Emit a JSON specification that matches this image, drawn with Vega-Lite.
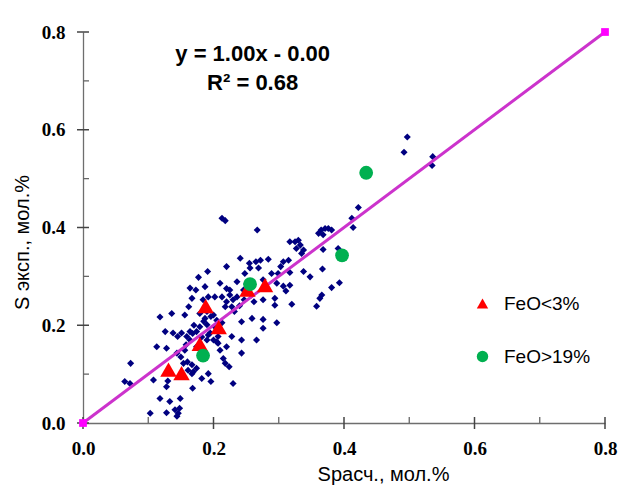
{
  "$schema": "https://vega.github.io/schema/vega-lite/v6.json",
  "width": 522,
  "height": 391,
  "autosize": {"type": "none"},
  "padding": {"left": 83, "top": 32, "right": 25, "bottom": 67},
  "background": "white",
  "config": {
    "view": {"stroke": null},
    "axis": {
      "grid": false,
      "ticks": false,
      "domainColor": "#6e6e6e",
      "domainWidth": 1.3,
      "labelFlush": false,
      "labelFont": "Liberation Serif",
      "labelFontWeight": "bold",
      "labelFontSize": 19,
      "labelColor": "#000000",
      "titleFont": "Liberation Sans",
      "titleFontWeight": "normal",
      "titleFontSize": 20,
      "titleColor": "#000000"
    },
    "legend": {
      "orient": "none",
      "legendX": 390,
      "legendY": 262,
      "title": null,
      "padding": 0,
      "labelFont": "Liberation Sans",
      "labelFontSize": 19,
      "labelColor": "#000000",
      "labelOffset": 12,
      "symbolSize": 130,
      "symbolStrokeWidth": 0,
      "rowPadding": 33
    }
  },
  "datasets": {
    "pts": [
      {"x": 0.213, "y": 0.419}, {"x": 0.218, "y": 0.414}, {"x": 0.267, "y": 0.395}, {"x": 0.241, "y": 0.337},
      {"x": 0.255, "y": 0.327}, {"x": 0.265, "y": 0.330}, {"x": 0.272, "y": 0.333}, {"x": 0.284, "y": 0.335},
      {"x": 0.220, "y": 0.320}, {"x": 0.256, "y": 0.317}, {"x": 0.269, "y": 0.317}, {"x": 0.191, "y": 0.310},
      {"x": 0.177, "y": 0.298}, {"x": 0.248, "y": 0.306}, {"x": 0.289, "y": 0.306}, {"x": 0.299, "y": 0.306},
      {"x": 0.236, "y": 0.289}, {"x": 0.251, "y": 0.286}, {"x": 0.210, "y": 0.286}, {"x": 0.220, "y": 0.275},
      {"x": 0.164, "y": 0.276}, {"x": 0.173, "y": 0.272}, {"x": 0.202, "y": 0.258}, {"x": 0.213, "y": 0.258},
      {"x": 0.192, "y": 0.258}, {"x": 0.236, "y": 0.258}, {"x": 0.230, "y": 0.252}, {"x": 0.220, "y": 0.248},
      {"x": 0.167, "y": 0.255}, {"x": 0.162, "y": 0.238}, {"x": 0.218, "y": 0.238}, {"x": 0.228, "y": 0.238},
      {"x": 0.294, "y": 0.241}, {"x": 0.294, "y": 0.255}, {"x": 0.276, "y": 0.252}, {"x": 0.190, "y": 0.228},
      {"x": 0.179, "y": 0.224}, {"x": 0.118, "y": 0.217}, {"x": 0.136, "y": 0.224}, {"x": 0.156, "y": 0.221},
      {"x": 0.200, "y": 0.221}, {"x": 0.187, "y": 0.214}, {"x": 0.243, "y": 0.207}, {"x": 0.259, "y": 0.214},
      {"x": 0.276, "y": 0.212}, {"x": 0.276, "y": 0.194}, {"x": 0.297, "y": 0.205}, {"x": 0.126, "y": 0.187},
      {"x": 0.138, "y": 0.184}, {"x": 0.151, "y": 0.184}, {"x": 0.164, "y": 0.187}, {"x": 0.174, "y": 0.187},
      {"x": 0.145, "y": 0.177}, {"x": 0.159, "y": 0.177}, {"x": 0.228, "y": 0.177}, {"x": 0.200, "y": 0.170},
      {"x": 0.207, "y": 0.163}, {"x": 0.243, "y": 0.170}, {"x": 0.266, "y": 0.170}, {"x": 0.113, "y": 0.156},
      {"x": 0.128, "y": 0.153}, {"x": 0.144, "y": 0.143}, {"x": 0.156, "y": 0.149}, {"x": 0.243, "y": 0.143},
      {"x": 0.215, "y": 0.132}, {"x": 0.218, "y": 0.122}, {"x": 0.073, "y": 0.122}, {"x": 0.154, "y": 0.122},
      {"x": 0.167, "y": 0.119}, {"x": 0.161, "y": 0.108}, {"x": 0.169, "y": 0.105}, {"x": 0.174, "y": 0.112},
      {"x": 0.192, "y": 0.101}, {"x": 0.224, "y": 0.115}, {"x": 0.064, "y": 0.085}, {"x": 0.072, "y": 0.081},
      {"x": 0.108, "y": 0.088}, {"x": 0.130, "y": 0.086}, {"x": 0.182, "y": 0.091}, {"x": 0.196, "y": 0.085},
      {"x": 0.230, "y": 0.081}, {"x": 0.128, "y": 0.074}, {"x": 0.168, "y": 0.071}, {"x": 0.118, "y": 0.050},
      {"x": 0.133, "y": 0.044}, {"x": 0.149, "y": 0.050}, {"x": 0.103, "y": 0.020}, {"x": 0.128, "y": 0.021},
      {"x": 0.141, "y": 0.027}, {"x": 0.148, "y": 0.030}, {"x": 0.144, "y": 0.014}, {"x": 0.146, "y": 0.020},
      {"x": 0.179, "y": 0.197}, {"x": 0.190, "y": 0.201}, {"x": 0.195, "y": 0.184}, {"x": 0.207, "y": 0.177},
      {"x": 0.164, "y": 0.170}, {"x": 0.174, "y": 0.156}, {"x": 0.202, "y": 0.197}, {"x": 0.220, "y": 0.156},
      {"x": 0.184, "y": 0.252}, {"x": 0.187, "y": 0.279}, {"x": 0.225, "y": 0.272}, {"x": 0.246, "y": 0.272},
      {"x": 0.297, "y": 0.286}, {"x": 0.276, "y": 0.293}, {"x": 0.192, "y": 0.180}, {"x": 0.205, "y": 0.166},
      {"x": 0.210, "y": 0.149}, {"x": 0.167, "y": 0.101}, {"x": 0.131, "y": 0.105},
      {"x": 0.170, "y": 0.200}, {"x": 0.185, "y": 0.208}, {"x": 0.196, "y": 0.218}, {"x": 0.205, "y": 0.210},
      {"x": 0.213, "y": 0.205}, {"x": 0.168, "y": 0.183}, {"x": 0.182, "y": 0.176}, {"x": 0.190, "y": 0.170},
      {"x": 0.232, "y": 0.228}, {"x": 0.240, "y": 0.240}, {"x": 0.247, "y": 0.252}, {"x": 0.225, "y": 0.262},
      {"x": 0.258, "y": 0.262}, {"x": 0.262, "y": 0.248}, {"x": 0.158, "y": 0.160}, {"x": 0.150, "y": 0.135},
      {"x": 0.160, "y": 0.125},
      {"x": 0.497, "y": 0.585}, {"x": 0.492, "y": 0.554}, {"x": 0.536, "y": 0.545}, {"x": 0.535, "y": 0.527},
      {"x": 0.422, "y": 0.441}, {"x": 0.412, "y": 0.419}, {"x": 0.414, "y": 0.400}, {"x": 0.361, "y": 0.388},
      {"x": 0.365, "y": 0.395}, {"x": 0.371, "y": 0.398}, {"x": 0.376, "y": 0.398}, {"x": 0.381, "y": 0.395},
      {"x": 0.368, "y": 0.385}, {"x": 0.317, "y": 0.371}, {"x": 0.325, "y": 0.371}, {"x": 0.330, "y": 0.374},
      {"x": 0.333, "y": 0.364}, {"x": 0.338, "y": 0.354}, {"x": 0.335, "y": 0.347}, {"x": 0.327, "y": 0.357},
      {"x": 0.368, "y": 0.355}, {"x": 0.391, "y": 0.357}, {"x": 0.307, "y": 0.330}, {"x": 0.315, "y": 0.333},
      {"x": 0.303, "y": 0.320}, {"x": 0.317, "y": 0.308}, {"x": 0.338, "y": 0.310}, {"x": 0.348, "y": 0.299},
      {"x": 0.367, "y": 0.315}, {"x": 0.393, "y": 0.287}, {"x": 0.381, "y": 0.277}, {"x": 0.366, "y": 0.262},
      {"x": 0.363, "y": 0.255}, {"x": 0.358, "y": 0.239}, {"x": 0.320, "y": 0.243}, {"x": 0.317, "y": 0.282},
      {"x": 0.311, "y": 0.270}, {"x": 0.307, "y": 0.280}
    ],
    "special": [
      {"x": 0.131, "y": 0.109, "group": "FeO<3%"}, {"x": 0.151, "y": 0.102, "group": "FeO<3%"},
      {"x": 0.179, "y": 0.162, "group": "FeO<3%"}, {"x": 0.188, "y": 0.239, "group": "FeO<3%"},
      {"x": 0.208, "y": 0.196, "group": "FeO<3%"}, {"x": 0.252, "y": 0.273, "group": "FeO<3%"},
      {"x": 0.279, "y": 0.282, "group": "FeO<3%"},
      {"x": 0.434, "y": 0.512, "group": "FeO>19%"}, {"x": 0.397, "y": 0.343, "group": "FeO>19%"},
      {"x": 0.256, "y": 0.284, "group": "FeO>19%"}, {"x": 0.184, "y": 0.138, "group": "FeO>19%"}
    ],
    "fit": [
      {"x": 0.0, "y": 0.0}, {"x": 0.8, "y": 0.8}
    ],
    "majorTicks": [{"v": 0.0}, {"v": 0.2}, {"v": 0.4}, {"v": 0.6}, {"v": 0.8}],
    "minorTicks": [{"v": 0.1}, {"v": 0.3}, {"v": 0.5}, {"v": 0.7}]
  },
  "layer": [
    {
      "data": {"name": "pts"},
      "mark": {"type": "point", "shape": "diamond", "filled": true, "color": "#000080", "opacity": 1, "size": 50},
      "encoding": {
        "x": {
          "field": "x", "type": "quantitative",
          "scale": {"domain": [0, 0.8], "nice": false, "zero": false},
          "axis": {
            "title": "Sрасч., мол.%",
            "values": [0, 0.2, 0.4, 0.6, 0.8],
            "format": ".1f",
            "labelPadding": 16,
            "titleX": 300,
            "titleY": 51,
            "titleBaseline": "middle",
            "titleAlign": "center"
          }
        },
        "y": {
          "field": "y", "type": "quantitative",
          "scale": {"domain": [0, 0.8], "nice": false, "zero": false},
          "axis": {
            "title": "S эксп., мол.%",
            "values": [0, 0.2, 0.4, 0.6, 0.8],
            "format": ".1f",
            "labelPadding": 18,
            "titleX": -61,
            "titleY": 210,
            "titleBaseline": "middle",
            "titleAlign": "center"
          }
        }
      }
    },
    {
      "data": {"name": "majorTicks"},
      "mark": {"type": "tick", "orient": "vertical", "size": 12, "thickness": 1.5, "color": "#444444", "opacity": 1, "clip": false},
      "encoding": {
        "x": {"field": "v", "type": "quantitative"},
        "y": {"datum": 0, "type": "quantitative"}
      }
    },
    {
      "data": {"name": "minorTicks"},
      "mark": {"type": "tick", "orient": "vertical", "size": 6, "thickness": 1.3, "color": "#666666", "opacity": 1, "yOffset": -3, "clip": false},
      "encoding": {
        "x": {"field": "v", "type": "quantitative"},
        "y": {"datum": 0, "type": "quantitative"}
      }
    },
    {
      "data": {"name": "majorTicks"},
      "mark": {"type": "tick", "orient": "horizontal", "size": 12, "thickness": 1.5, "color": "#444444", "opacity": 1, "clip": false},
      "encoding": {
        "y": {"field": "v", "type": "quantitative"},
        "x": {"datum": 0, "type": "quantitative"}
      }
    },
    {
      "data": {"name": "minorTicks"},
      "mark": {"type": "tick", "orient": "horizontal", "size": 6, "thickness": 1.3, "color": "#666666", "opacity": 1, "xOffset": 3, "clip": false},
      "encoding": {
        "y": {"field": "v", "type": "quantitative"},
        "x": {"datum": 0, "type": "quantitative"}
      }
    },
    {
      "data": {"name": "fit"},
      "mark": {"type": "line", "color": "#CC33CC", "strokeWidth": 3},
      "encoding": {
        "x": {"field": "x", "type": "quantitative"},
        "y": {"field": "y", "type": "quantitative"}
      }
    },
    {
      "data": {"name": "fit"},
      "mark": {"type": "square", "color": "#FF00FF", "opacity": 1, "size": 60, "clip": false},
      "encoding": {
        "x": {"field": "x", "type": "quantitative"},
        "y": {"field": "y", "type": "quantitative"}
      }
    },
    {
      "data": {"name": "special"},
      "transform": [{"filter": "datum.group == 'FeO<3%'"}],
      "mark": {"type": "point", "filled": true, "opacity": 1, "size": 270},
      "encoding": {
        "x": {"field": "x", "type": "quantitative"},
        "y": {"field": "y", "type": "quantitative"},
        "shape": {"field": "group", "type": "nominal", "scale": {"domain": ["FeO<3%", "FeO>19%"], "range": ["triangle-up", "circle"]}},
        "color": {"field": "group", "type": "nominal", "scale": {"domain": ["FeO<3%", "FeO>19%"], "range": ["#FF0000", "#00B050"]}}
      }
    },
    {
      "data": {"name": "special"},
      "transform": [{"filter": "datum.group == 'FeO>19%'"}],
      "mark": {"type": "point", "filled": true, "opacity": 1, "size": 190},
      "encoding": {
        "x": {"field": "x", "type": "quantitative"},
        "y": {"field": "y", "type": "quantitative"},
        "shape": {"field": "group", "type": "nominal", "scale": {"domain": ["FeO<3%", "FeO>19%"], "range": ["triangle-up", "circle"]}},
        "color": {"field": "group", "type": "nominal", "scale": {"domain": ["FeO<3%", "FeO>19%"], "range": ["#FF0000", "#00B050"]}}
      }
    },
    {
      "data": {"values": [{}]},
      "mark": {"type": "text", "font": "Liberation Sans", "fontWeight": "bold", "fontSize": 22, "color": "#000000", "align": "center", "baseline": "middle"},
      "encoding": {
        "x": {"datum": 0.26, "type": "quantitative"},
        "y": {"datum": 0.756, "type": "quantitative"},
        "text": {"value": "y = 1.00x - 0.00"}
      }
    },
    {
      "data": {"values": [{}]},
      "mark": {"type": "text", "font": "Liberation Sans", "fontWeight": "bold", "fontSize": 22, "color": "#000000", "align": "center", "baseline": "middle"},
      "encoding": {
        "x": {"datum": 0.26, "type": "quantitative"},
        "y": {"datum": 0.695, "type": "quantitative"},
        "text": {"value": "R² = 0.68"}
      }
    }
  ]
}
